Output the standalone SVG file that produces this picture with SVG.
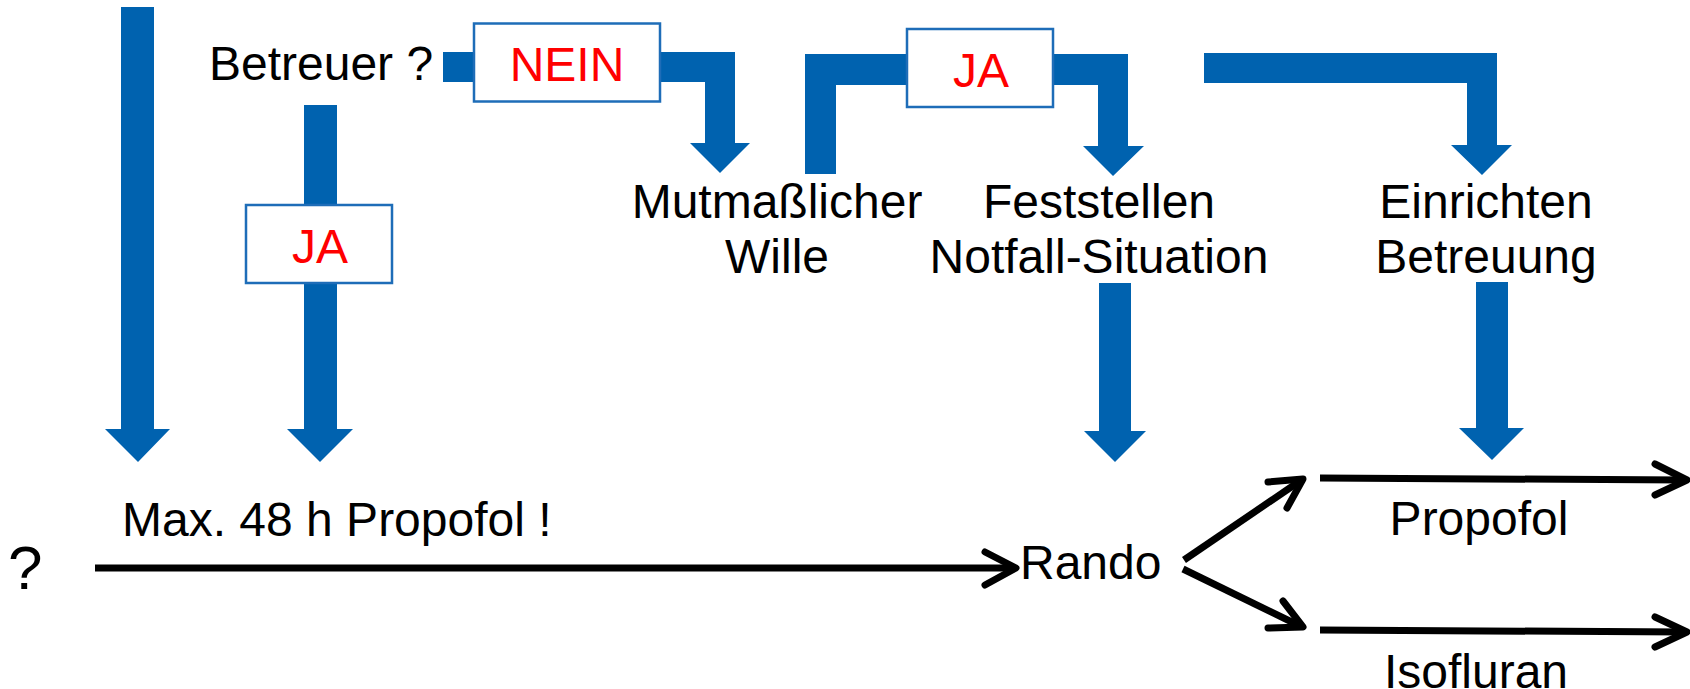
<svg xmlns="http://www.w3.org/2000/svg" width="1690" height="689" viewBox="0 0 1690 689">
  <style>
    text { font-family: "Liberation Sans", Arial, sans-serif; font-size: 48px; fill: #000; }
    .red { fill: #FF0000; }
    .mid { text-anchor: middle; }
    .flow { fill: #0062AF; stroke: none; }
    .box { fill: #FFFFFF; stroke: #1E6DB8; stroke-width: 2.5; }
    .line { fill: none; stroke: #000; stroke-width: 7; }
    .head { fill: none; stroke: #000; stroke-width: 7; stroke-linecap: round; stroke-linejoin: round; }
  </style>

  <!-- connectors -->
  <g id="connectors">
    <!-- blue block arrows -->
    <path class="flow" d="M121,7 H154 V429 H170 L138,462 L105,429 H121 Z"/>
    <path class="flow" d="M304,105 H337 V429 H353 L320,462 L287,429 H304 Z"/>
    <path class="flow" d="M443,52 H735 V143 H750 L720,173 L690,143 H705 V82 H443 Z"/>
    <path class="flow" d="M805,174 V54 H1128 V146 H1144 L1113,176 L1083,146 H1098 V85 H836 V174 Z"/>
    <path class="flow" d="M1204,53 H1497 V145 H1512 L1482,175 L1451,145 H1467 V83 H1204 Z"/>
    <path class="flow" d="M1099,283 H1131 V431 H1146 L1115,462 L1084,431 H1099 Z"/>
    <path class="flow" d="M1476,282 H1508 V428 H1524 L1492,460 L1459,428 H1476 Z"/>

    <!-- black line arrows -->
    <line class="line" x1="95" y1="568" x2="1014" y2="568"/>
    <polyline class="head" points="985,552 1016,568 985,585"/>

    <line class="line" x1="1184" y1="560" x2="1300" y2="481"/>
    <polyline class="head" points="1268,482 1303,479 1287,508"/>

    <line class="line" x1="1183" y1="569" x2="1300" y2="626"/>
    <polyline class="head" points="1283,601 1303,627 1268,628"/>

    <line class="line" x1="1320" y1="478" x2="1684" y2="480"/>
    <polyline class="head" points="1655,464 1687,480 1655,495"/>

    <line class="line" x1="1320" y1="630" x2="1684" y2="632"/>
    <polyline class="head" points="1655,617 1687,632 1655,647"/>
  </g>

  <!-- decision boxes -->
  <g id="box-nein">
    <rect class="box" x="474" y="23.5" width="186" height="78"/>
    <text class="red mid" x="567" y="81">NEIN</text>
  </g>
  <g id="box-ja-left">
    <rect class="box" x="246" y="205" width="146" height="78"/>
    <text class="red mid" x="320" y="263">JA</text>
  </g>
  <g id="box-ja-right">
    <rect class="box" x="907" y="29" width="146" height="78"/>
    <text class="red mid" x="981" y="87">JA</text>
  </g>

  <!-- labels -->
  <g id="betreuer">
    <text x="209" y="80">Betreuer ?</text>
  </g>
  <g id="mutmasslicher-wille">
    <text class="mid" x="777" y="218">Mutmaßlicher</text>
    <text class="mid" x="777" y="273">Wille</text>
  </g>
  <g id="notfall">
    <text class="mid" x="1099" y="218">Feststellen</text>
    <text class="mid" x="1099" y="273">Notfall-Situation</text>
  </g>
  <g id="betreuung">
    <text class="mid" x="1486" y="218">Einrichten</text>
    <text class="mid" x="1486" y="273">Betreuung</text>
  </g>
  <g id="question">
    <text x="8" y="589" style="font-size:62px">?</text>
  </g>
  <g id="max-propofol">
    <text x="122" y="536">Max. 48 h Propofol !</text>
  </g>
  <g id="rando">
    <text x="1020" y="579">Rando</text>
  </g>
  <g id="propofol">
    <text class="mid" x="1479" y="535">Propofol</text>
  </g>
  <g id="isofluran">
    <text class="mid" x="1476" y="688">Isofluran</text>
  </g>
</svg>
